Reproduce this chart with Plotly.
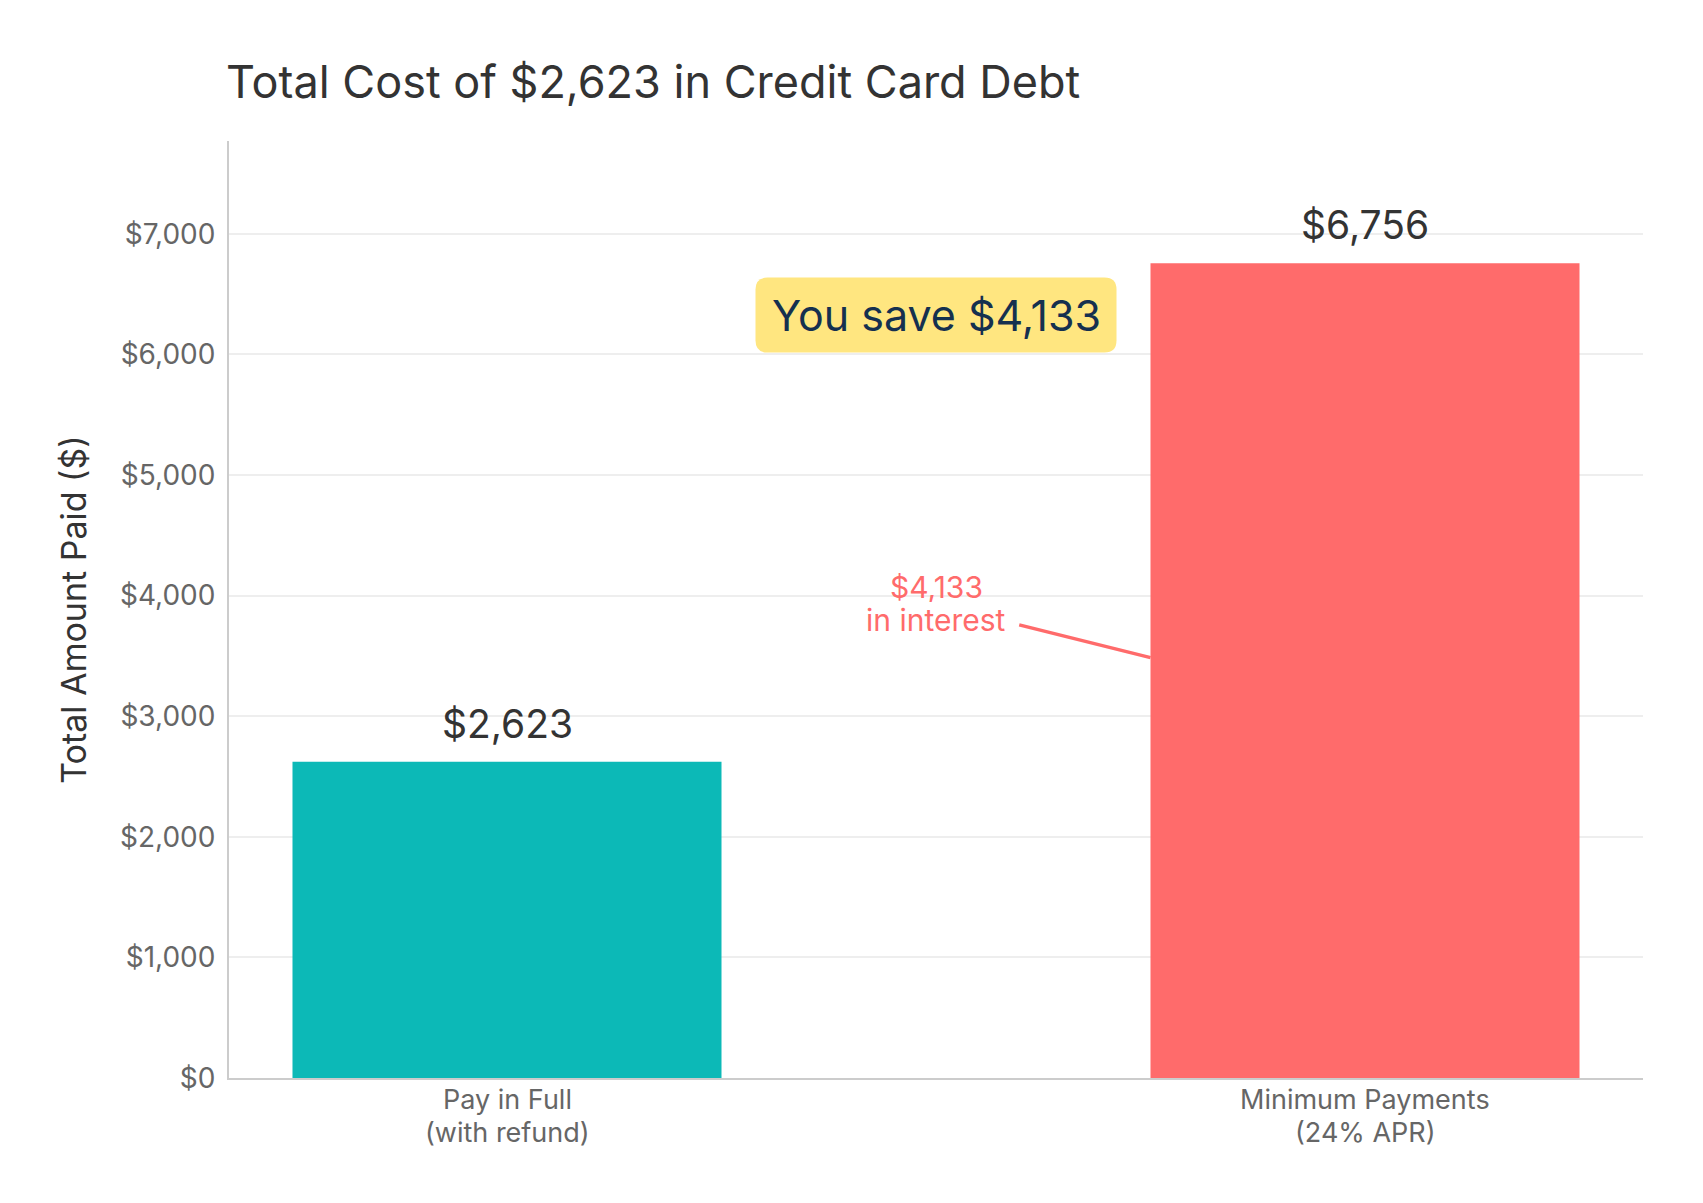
import plotly.graph_objects as go

# ---- data ----
categories = ["Pay in Full<br>(with refund)", "Minimum Payments<br>(24% APR)"]
totals = [2623, 6756]
bar_colors = ["#0CB9B7", "#FF6B6B"]
principal = 2623
interest = totals[1] - totals[0]
savings = totals[1] - totals[0]
title_text = f"Total Cost of ${principal:,} in Credit Card Debt"
y_title = "Total Amount Paid ($)"

# ---- layout geometry ----
W, H = 1703, 1203
ML, MR, MT, MB = 221, 68, 133, 133
x_range = [-0.324, 1.324]
y_range = [0, max(totals) * 1.15]
FONT = "Inter"
RED = "#FF6B6B"

fig = go.Figure()
fig.add_trace(go.Bar(
    x=categories, y=totals, marker=dict(color=bar_colors, line=dict(width=0)),
    width=0.5, showlegend=False, hoverinfo="skip",
))

# value labels above bars
for c, v in zip(categories, totals):
    fig.add_annotation(x=c, y=v, text=f"${v:,}", showarrow=False, yanchor="bottom",
                       yshift=13, font=dict(family=FONT, size=39, color="#333333"))

# category labels below the axis (tight line spacing)
for c in categories:
    for i, line in enumerate(c.split("<br>")):
        fig.add_annotation(x=c, y=0, yref="paper", text=line, showarrow=False,
                           yanchor="middle", yshift=-21 - 33 * i, height=31,
                           borderpad=0,
                           font=dict(family=FONT, size=27, color="#666666"))

# savings callout (rounded yellow box)
px_x = (W - ML - MR) / (x_range[1] - x_range[0])
px_y = (H - MT - MB) / (y_range[1] - y_range[0])
cx, cy = 0.5, 6326
hw, hh, r = 180.5 / px_x, 37.5 / px_y, 12
rx, ry = r / px_x, r / px_y
x0, x1, y0, y1 = cx - hw, cx + hw, cy - hh, cy + hh
path = (f"M {x0+rx},{y0} L {x1-rx},{y0} Q {x1},{y0} {x1},{y0+ry} "
        f"L {x1},{y1-ry} Q {x1},{y1} {x1-rx},{y1} L {x0+rx},{y1} "
        f"Q {x0},{y1} {x0},{y1-ry} L {x0},{y0+ry} Q {x0},{y0} {x0+rx},{y0} Z")
fig.add_shape(type="path", path=path, xref="x", yref="y", fillcolor="#FFE680",
              line=dict(width=0), layer="above")
fig.add_annotation(x=cx, y=cy, text=f"You save ${savings:,}", showarrow=False,
                   font=dict(family=FONT, size=43, color="#15304F"))

# interest callout: two text lines plus a connector to the red bar
interest_lines = [f"${interest:,}", "in interest"]
text_x, text_y0, line_gap = 0.5, 4072, 270
for i, line in enumerate(interest_lines):
    fig.add_annotation(x=text_x, y=text_y0 - line_gap * i, text=line, showarrow=False,
                       height=31, font=dict(family=FONT, size=30, color=RED))
fig.add_shape(type="line", xref="x", yref="y", x0=0.597, y0=3757, x1=0.75, y1=3486,
              line=dict(color=RED, width=3.5), layer="above")

fig.update_layout(
    width=W, height=H,
    margin=dict(l=ML, r=MR, t=MT, b=MB, autoexpand=False),
    paper_bgcolor="white", plot_bgcolor="white",
    font=dict(family=FONT, color="#666666"),
    title=dict(text=title_text, x=218 / W, xref="container", xanchor="left",
               y=1 - 74 / H, yref="container", yanchor="middle",
               font=dict(family=FONT, size=45, color="#333333")),
    xaxis=dict(range=x_range, showgrid=False, showline=True, linecolor="#CCCCCC",
               linewidth=2, ticks="", showticklabels=False,
               zeroline=False, fixedrange=True),
    yaxis=dict(range=y_range, dtick=1000, tickformat="$,.0f", showgrid=True,
               gridcolor="#EEEEEE", gridwidth=2, showline=True, linecolor="#CCCCCC",
               linewidth=2, zeroline=False, ticks="", ticklabelstandoff=6,
               tickfont=dict(family=FONT, size=28, color="#666666"),
               title=dict(text=y_title, font=dict(family=FONT, size=34, color="#333333"),
                          standoff=23),
               fixedrange=True),
    bargap=0.5,
)

fig.write_html("out.html")
